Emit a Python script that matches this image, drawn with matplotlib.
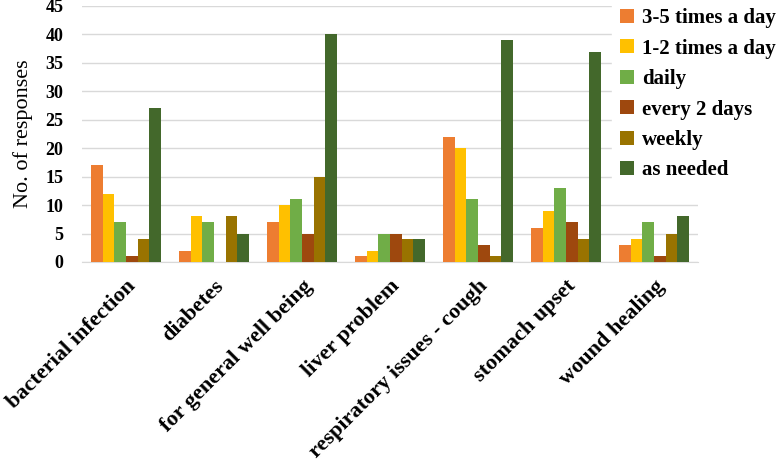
import numpy as np
import matplotlib.pyplot as plt

categories = ['bacterial infection', 'diabetes', 'for general well being', 'liver problem',
              'respiratory issues - cough', 'stomach upset', 'wound healing']
series_names = ['3-5 times a day', '1-2 times a day', 'daily', 'every 2 days', 'weekly', 'as needed']

times_3_5 = [17, 2, 7, 1, 22, 6, 3]
times_1_2 = [12, 8, 10, 2, 20, 9, 4]
daily = [7, 7, 11, 5, 11, 13, 7]
every_2_days = [1, 0, 5, 5, 3, 7, 1]
weekly = [4, 8, 15, 4, 1, 4, 5]
as_needed = [27, 5, 40, 4, 39, 37, 8]

colors = ['#ED7D31', '#FFC000', '#70AD47', '#9E480E', '#997300', '#43682B']

plt.rcParams['font.family'] = ['Liberation Serif', 'DejaVu Serif']

fig = plt.figure(figsize=(7.78, 4.62), dpi=100)
ax = fig.add_axes([82 / 778, 1 - 262 / 462, (698 - 82) / 778, (262 - 6) / 462])

data = [times_3_5, times_1_2, daily, every_2_days, weekly, as_needed]
x = np.arange(len(categories))
n = len(data)
w = 0.79 / n
for i, (vals, name) in enumerate(zip(data, series_names)):
    ax.bar(x - 0.395 + w * (i + 0.5), vals, w, color=colors[i], label=name, zorder=3)

ax.set_xlim(-0.5, len(categories) - 0.5)
ax.set_ylim(0, 45)
ax.set_yticks(range(0, 46, 5))
ax.set_yticklabels([str(v) for v in range(0, 46, 5)], fontweight='bold', fontsize=13)
ax.set_xticks(x)
ax.set_xticklabels(categories, rotation=45, ha='right', rotation_mode='anchor',
                   fontweight='bold', fontsize=16)
ax.tick_params(axis='both', length=0)
ax.tick_params(axis='x', pad=10)
ax.tick_params(axis='y', pad=13.5)
ax.set_ylabel('No. of responses', fontsize=16, labelpad=9)
ax.grid(axis='y', color='#D9D9D9', linewidth=1, zorder=0)
for s in ['top', 'right', 'left']:
    ax.spines[s].set_visible(False)
ax.spines['bottom'].set_color('#D9D9D9')

leg = ax.legend(loc='upper left', bbox_to_anchor=(612 / 778, 1.0), bbox_transform=fig.transFigure,
                frameon=True, fancybox=False, edgecolor='white', framealpha=1,
                prop={'weight': 'bold', 'size': 15},
                handlelength=0.65, handleheight=0.65,
                handletextpad=0.4, labelspacing=0.5, borderaxespad=0)

fig.savefig('out.png', dpi=100)
